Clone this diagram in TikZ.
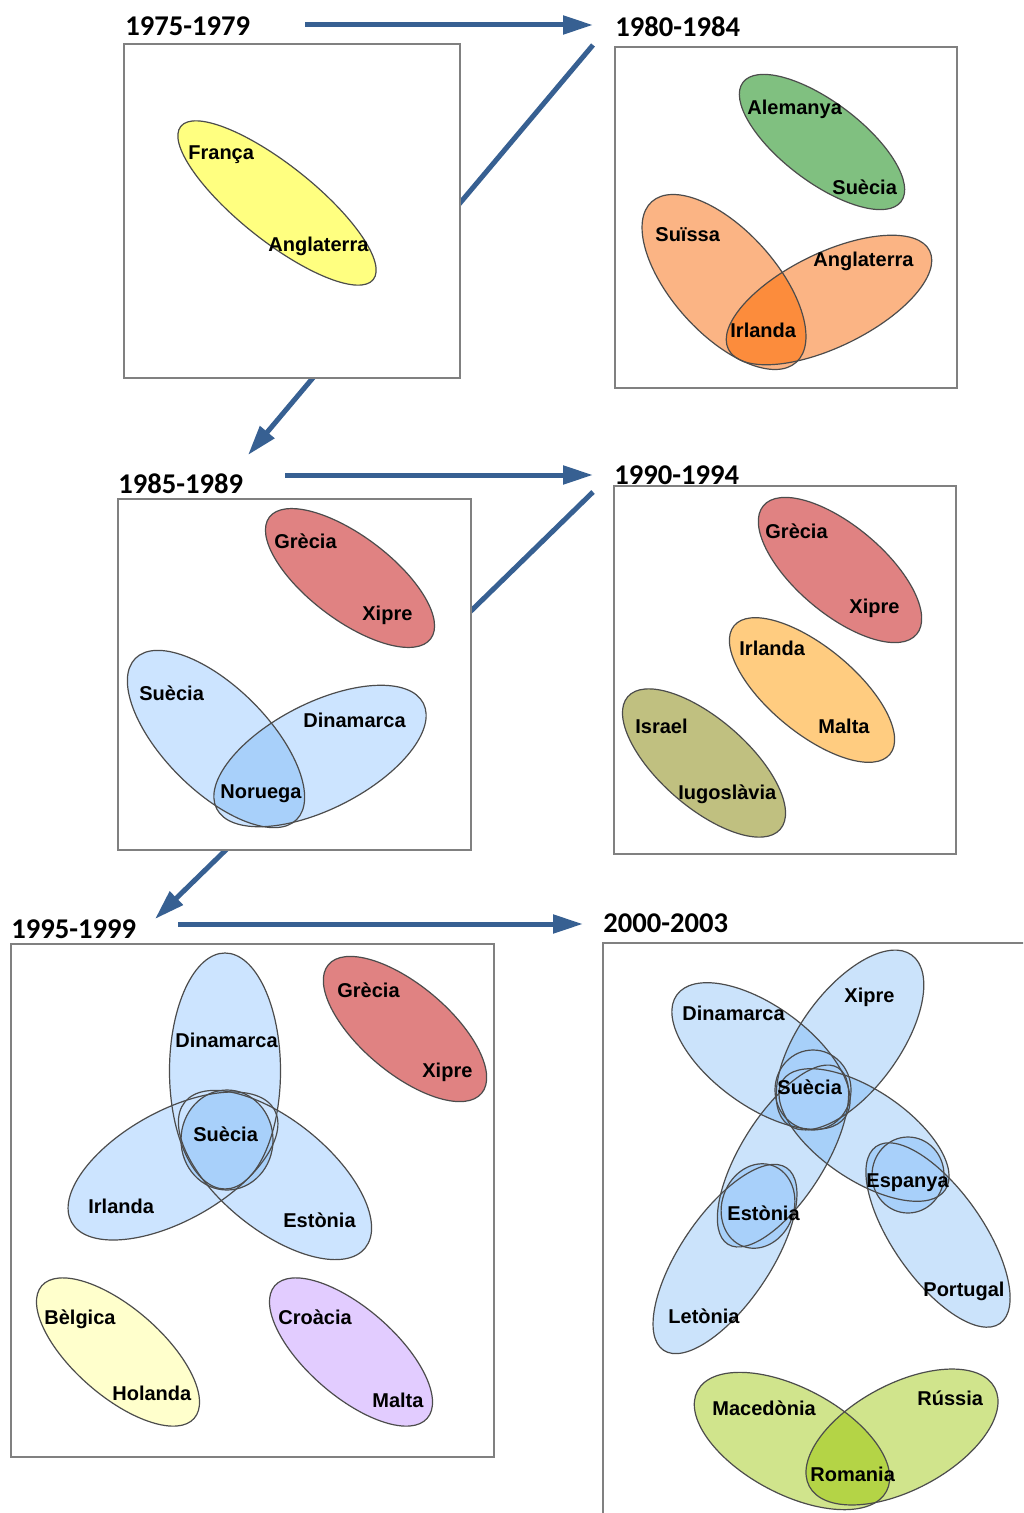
\documentclass[tikz,border=0pt]{standalone}
\usepackage{fontspec}
\usetikzlibrary{arrows.meta}

\newfontfamily\calibrifam{Carlito}
\newfontfamily\arialfam{Liberation Sans}

\definecolor{arrowblue}{RGB}{55,96,146}
\definecolor{lemon}{RGB}{255,255,128}
\definecolor{paleyellow}{RGB}{255,255,204}
\definecolor{leaf}{RGB}{128,192,128}
\definecolor{peach}{RGB}{251,180,132}
\definecolor{tangerine}{RGB}{252,140,60}
\definecolor{rose}{RGB}{224,130,130}
\definecolor{apricot}{RGB}{255,204,128}
\definecolor{olive}{RGB}{192,192,128}
\definecolor{sky}{RGB}{204,228,255}
\definecolor{skydark}{RGB}{168,208,250}
\definecolor{skyglass}{RGB}{85,165,245}
\definecolor{lilac}{RGB}{226,204,255}
\definecolor{lime}{RGB}{208,228,140}
\definecolor{limedark}{RGB}{180,212,70}

\tikzset{
  outline/.style={draw=black!70, line width=0.6pt},
  period/.style={draw=black!50, line width=0.75pt, fill=white},
  timeline/.style={draw=arrowblue, line width=2.5pt, -{Triangle[length=15pt,width=9pt]}},
  yeartag/.style={font=\calibrifam\bfseries\fontsize{14.3}{16}\selectfont, anchor=base west, inner sep=0pt},
  country/.style={font=\arialfam\bfseries\fontsize{10}{12}\selectfont, anchor=base west, inner sep=0pt},
  glass/.style={fill=skyglass, fill opacity=0.3},
}

\begin{document}
\begin{tikzpicture}[x=0.5pt,y=-0.5pt]
\clip (0,0) rectangle (1023,1513);
\fill[white] (0,0) rectangle (1023,1513);

% arrows from one period to the next
\coordinate (t1s) at (305,25);
\coordinate (t1e) at (593,25);
\coordinate (t2s) at (593,45);
\coordinate (t2e) at (248,455);
\coordinate (t3s) at (285,475);
\coordinate (t3e) at (593,475);
\coordinate (t4s) at (593,492);
\coordinate (t4e) at (155,919);
\coordinate (t5s) at (178,924);
\coordinate (t5e) at (583,924);
\draw[timeline] (t1s) -- (t1e);
\draw[timeline] (t2s) -- (t2e);
\draw[timeline] (t3s) -- (t3e);
\draw[timeline] (t4s) -- (t4e);
\draw[timeline] (t5s) -- (t5e);

% frames
\draw[period] (124,44) rectangle (460,378);
\draw[period] (615,47) rectangle (957,388);
\draw[period] (118,499) rectangle (471,850);
\draw[period] (614,486) rectangle (956,854);
\draw[period] (11,944) rectangle (494,1457);
\draw[period] (603,943) rectangle (1040,1540);

\node[yeartag] (y75) at (125,36) {1975-1979};
\node[yeartag] (y80) at (615,37) {1980-1984};
\node[yeartag] (y85) at (118,493) {1985-1989};
\node[yeartag] (y90) at (614,484) {1990-1994};
\node[yeartag] (y95) at (11,938) {1995-1999};
\node[yeartag] (y00) at (603,932) {2000-2003};

% 1975-1979
\draw[outline, fill=lemon, shift={(277,203)}, rotate=-38.5] (0,0) ellipse [x radius=123, y radius=38];
\node[country] (fra75) at (188,160) {França};
\node[country] (ang75) at (268,252) {Anglaterra};

% 1980-1984
\draw[outline, fill=leaf, shift={(822,142)}, rotate=-37] (0,0) ellipse [x radius=99, y radius=40];
\fill[peach, shift={(724,282)}, rotate=-48] (0,0) ellipse [x radius=108, y radius=52];
\fill[peach, shift={(829,300)}, rotate=26] (0,0) ellipse [x radius=112, y radius=47];
\begin{scope}
  \clip[shift={(724,282)}, rotate=-48] (0,0) ellipse [x radius=108, y radius=52];
  \fill[tangerine, shift={(829,300)}, rotate=26] (0,0) ellipse [x radius=112, y radius=47];
\end{scope}
\draw[outline, shift={(724,282)}, rotate=-48] (0,0) ellipse [x radius=108, y radius=52];
\draw[outline, shift={(829,300)}, rotate=26] (0,0) ellipse [x radius=112, y radius=47];
\node[country] (ale80) at (747,115) {Alemanya};
\node[country] (sue80) at (832,195) {Suècia};
\node[country] (sui80) at (655,242) {Suïssa};
\node[country] (ang80) at (813,267) {Anglaterra};
\node[country] (irl80) at (730,338) {Irlanda};

% 1985-1989
\draw[outline, fill=rose, shift={(350,578)}, rotate=-37] (0,0) ellipse [x radius=101, y radius=42];
\fill[sky, shift={(216,739)}, rotate=-45] (0,0) ellipse [x radius=114, y radius=52];
\fill[sky, shift={(320,756)}, rotate=27] (0,0) ellipse [x radius=116, y radius=53];
\begin{scope}
  \clip[shift={(216,739)}, rotate=-45] (0,0) ellipse [x radius=114, y radius=52];
  \fill[skydark, shift={(320,756)}, rotate=27] (0,0) ellipse [x radius=116, y radius=53];
\end{scope}
\draw[outline, shift={(216,739)}, rotate=-45] (0,0) ellipse [x radius=114, y radius=52];
\draw[outline, shift={(320,756)}, rotate=27] (0,0) ellipse [x radius=116, y radius=53];
\node[country] (gre85) at (274,548) {Grècia};
\node[country] (xip85) at (362,620) {Xipre};
\node[country] (sue85) at (139,700) {Suècia};
\node[country] (din85) at (303,727) {Dinamarca};
\node[country] (nor85) at (220,798) {Noruega};

% 1990-1994
\draw[outline, fill=rose, shift={(840,570)}, rotate=-40] (0,0) ellipse [x radius=100, y radius=44];
\draw[outline, fill=apricot, shift={(812,690)}, rotate=-39.5] (0,0) ellipse [x radius=101, y radius=43];
\draw[outline, fill=olive, shift={(704,763)}, rotate=-41] (0,0) ellipse [x radius=101, y radius=44];
\node[country] (gre90) at (765,538) {Grècia};
\node[country] (xip90) at (849,613) {Xipre};
\node[country] (irl90) at (739,655) {Irlanda};
\node[country] (mal90) at (818,733) {Malta};
\node[country] (isr90) at (635,733) {Israel};
\node[country] (iug90) at (678,799) {Iugoslàvia};

% 1995-1999
\fill[sky] (225,1071) ellipse [x radius=55.5, y radius=118];
\fill[sky, shift={(173,1166)}, rotate=29] (0,0) ellipse [x radius=116, y radius=55];
\fill[sky, shift={(275,1175)}, rotate=-39] (0,0) ellipse [x radius=116, y radius=55];
\fill[skydark] (227,1140) ellipse [x radius=46, y radius=50];
\draw[outline] (225,1071) ellipse [x radius=55.5, y radius=118];
\draw[outline, shift={(173,1166)}, rotate=29] (0,0) ellipse [x radius=116, y radius=55];
\draw[outline, shift={(275,1175)}, rotate=-39] (0,0) ellipse [x radius=116, y radius=55];
\draw[outline] (227,1140) ellipse [x radius=46, y radius=50];
\draw[outline, fill=rose, shift={(405,1029)}, rotate=-40] (0,0) ellipse [x radius=100, y radius=44];
\draw[outline, fill=paleyellow, shift={(118,1352)}, rotate=-41] (0,0) ellipse [x radius=101, y radius=44];
\draw[outline, fill=lilac, shift={(351,1352)}, rotate=-41] (0,0) ellipse [x radius=101, y radius=44];
\node[country] (din95) at (175,1047) {Dinamarca};
\node[country] (sue95) at (193,1141) {Suècia};
\node[country] (irl95) at (88,1213) {Irlanda};
\node[country] (est95) at (283,1227) {Estònia};
\node[country] (gre95) at (337,997) {Grècia};
\node[country] (xip95) at (422,1077) {Xipre};
\node[country] (bel95) at (44,1324) {Bèlgica};
\node[country] (hol95) at (112,1400) {Holanda};
\node[country] (cro95) at (278,1324) {Croàcia};
\node[country] (mal95) at (372,1407) {Malta};

% 2000-2003
\fill[glass, shift={(761,1056)}, rotate=-36] (0,0) ellipse [x radius=104, y radius=50];
\fill[glass, shift={(850,1040)}, rotate=54] (0,0) ellipse [x radius=105, y radius=50];
\fill[glass, shift={(783,1156)}, rotate=58] (0,0) ellipse [x radius=104, y radius=42];
\fill[glass, shift={(725,1259)}, rotate=56] (0,0) ellipse [x radius=110, y radius=45];
\fill[glass, shift={(864,1135)}, rotate=-34] (0,0) ellipse [x radius=98, y radius=45];
\fill[glass, shift={(938,1235)}, rotate=-55] (0,0) ellipse [x radius=108, y radius=45];
\fill[skydark] (813,1090) ellipse [x radius=38, y radius=40];
\fill[skydark] (908,1175) ellipse [x radius=36, y radius=38];
\fill[skydark, shift={(758,1206)}, rotate=70] (0,0) ellipse [x radius=43, y radius=36];
\draw[outline, shift={(761,1056)}, rotate=-36] (0,0) ellipse [x radius=104, y radius=50];
\draw[outline, shift={(850,1040)}, rotate=54] (0,0) ellipse [x radius=105, y radius=50];
\draw[outline, shift={(783,1156)}, rotate=58] (0,0) ellipse [x radius=104, y radius=42];
\draw[outline, shift={(725,1259)}, rotate=56] (0,0) ellipse [x radius=110, y radius=45];
\draw[outline, shift={(864,1135)}, rotate=-34] (0,0) ellipse [x radius=98, y radius=45];
\draw[outline, shift={(938,1235)}, rotate=-55] (0,0) ellipse [x radius=108, y radius=45];
\draw[outline] (813,1090) ellipse [x radius=38, y radius=40];
\draw[outline] (908,1175) ellipse [x radius=36, y radius=38];
\draw[outline, shift={(758,1206)}, rotate=70] (0,0) ellipse [x radius=43, y radius=36];

\fill[lime, shift={(792,1441)}, rotate=-28] (0,0) ellipse [x radius=107, y radius=53];
\fill[lime, shift={(902,1437)}, rotate=28] (0,0) ellipse [x radius=105, y radius=53];
\begin{scope}
  \clip[shift={(792,1441)}, rotate=-28] (0,0) ellipse [x radius=107, y radius=53];
  \fill[limedark, shift={(902,1437)}, rotate=28] (0,0) ellipse [x radius=105, y radius=53];
\end{scope}
\draw[outline, shift={(792,1441)}, rotate=-28] (0,0) ellipse [x radius=107, y radius=53];
\draw[outline, shift={(902,1437)}, rotate=28] (0,0) ellipse [x radius=105, y radius=53];

\node[country] (din00) at (682,1020) {Dinamarca};
\node[country] (xip00) at (844,1002) {Xipre};
\node[country] (sue00) at (777,1094) {Suècia};
\node[country] (esp00) at (866,1187) {Espanya};
\node[country] (est00) at (727,1220) {Estònia};
\node[country] (por00) at (923,1296) {Portugal};
\node[country] (let00) at (668,1323) {Letònia};
\node[country] (mac00) at (712,1415) {Macedònia};
\node[country] (rus00) at (917,1405) {Rússia};
\node[country] (rom00) at (810,1481) {Romania};
\end{tikzpicture}
\end{document}
